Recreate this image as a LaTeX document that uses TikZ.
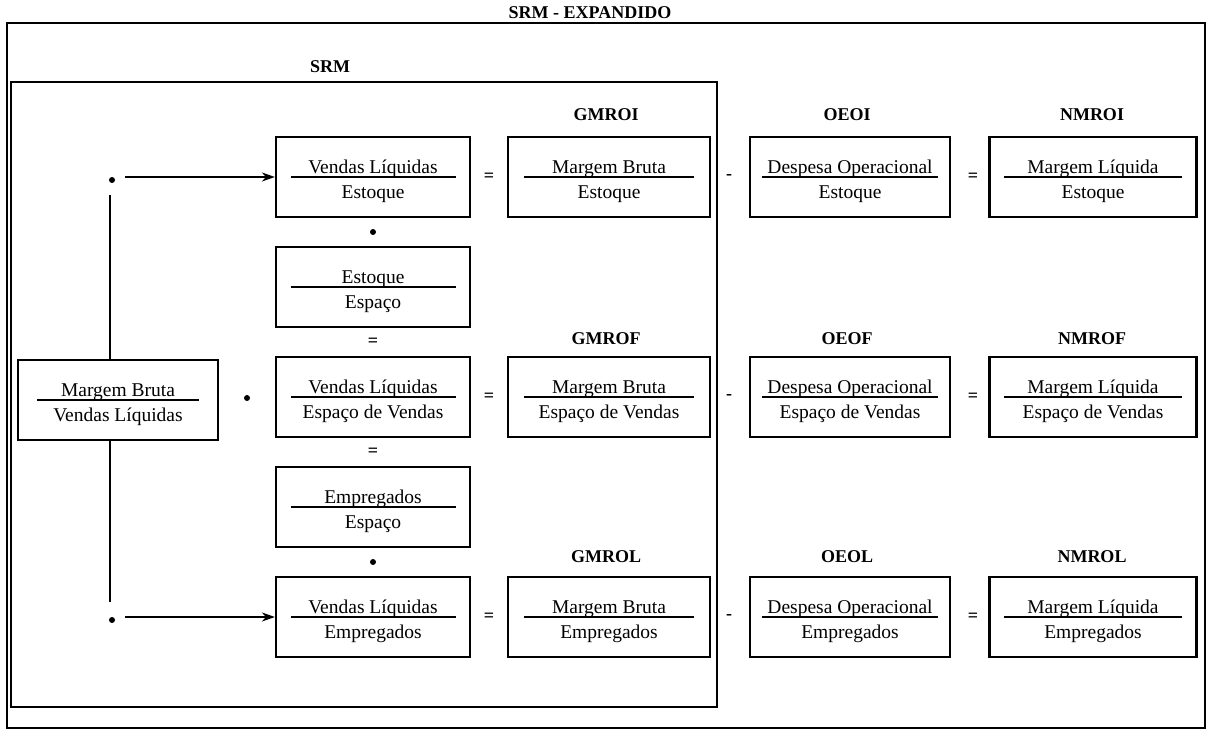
\documentclass[tikz,border=0pt]{standalone}
\usepackage{fontspec}
\setmainfont{Liberation Serif}
\usetikzlibrary{arrows.meta}

\tikzset{
  ratio/.style={draw, line width=2.2pt, minimum height=80pt, inner sep=0pt},
  fracrule/.style={line width=1.6pt},
  txt/.style={font=\fontsize{19.5}{23}\selectfont, inner sep=0pt},
  tag/.style={font=\fontsize{18}{22}\selectfont\bfseries, inner sep=0pt},
  op/.style={font=\fontsize{18}{22}\selectfont\bfseries, inner sep=0pt},
  dot/.style={circle, fill, inner sep=0pt, minimum size=6pt},
  link/.style={line width=2pt},
  arr/.style={line width=2pt, -{Stealth[length=13pt,width=9pt]}},
  frame/.style={line width=2.6pt},
}

% #1 name, #2 x, #3 y, #4 box width, #5 rule width, #6 numerator, #7 denominator
\newcommand\ratiobox[7]{%
  \node[ratio, minimum width=#4pt] (#1) at (#2,#3) {};
  \draw[fracrule] ([xshift={-#5pt/2}]#1.center) -- ([xshift={#5pt/2}]#1.center);
  \node[txt, anchor=base] (#1-num) at ([yshift=4pt]#1.center) {#6};
  \node[txt, anchor=base] (#1-den) at ([yshift=-21pt]#1.center) {#7};
}

\begin{document}
\begin{tikzpicture}[x=1pt, y=-1pt]
  \useasboundingbox (0,0) rectangle (1213,731);

  % frames
  \node[tag] (title) at (590,13) {SRM - EXPANDIDO};
  \draw[frame] (7,23) rectangle (1205,728);
  \draw[frame, line width=2.4pt] (11,82) rectangle (717,707);
  \node[tag] (srm) at (330,67) {SRM};

  % starting ratio
  \ratiobox{L}{118}{400}{200}{162}{Margem Bruta}{Vendas Líquidas}
  \node[dot] (c0) at (247,398) {};

  % chain of ratios
  \ratiobox{v1}{373}{177}{194}{165}{Vendas Líquidas}{Estoque}
  \ratiobox{v2}{373}{287}{194}{165}{Estoque}{Espaço}
  \ratiobox{v3}{373}{397}{194}{165}{Vendas Líquidas}{Espaço de Vendas}
  \ratiobox{v4}{373}{507}{194}{165}{Empregados}{Espaço}
  \ratiobox{v5}{373}{617}{194}{165}{Vendas Líquidas}{Empregados}
  \node[dot] (s1) at (373,232) {};
  \node[op] (s2) at (373,342) {=};
  \node[op] (s3) at (373,452) {=};
  \node[dot] (s4) at (373,562) {};

  % gross margin returns
  \node[tag] (gmroi) at (606,115) {GMROI};
  \node[tag] (gmrof) at (606,339) {GMROF};
  \node[tag] (gmrol) at (606,557) {GMROL};
  \ratiobox{g1}{609}{177}{202}{170}{Margem Bruta}{Estoque}
  \ratiobox{g2}{609}{397}{202}{170}{Margem Bruta}{Espaço de Vendas}
  \ratiobox{g3}{609}{617}{202}{170}{Margem Bruta}{Empregados}

  % operating expenses
  \node[tag] (oeoi) at (847,115) {OEOI};
  \node[tag] (oeof) at (847,339) {OEOF};
  \node[tag] (oeol) at (847,557) {OEOL};
  \ratiobox{o1}{850}{177}{200}{176}{Despesa Operacional}{Estoque}
  \ratiobox{o2}{850}{397}{200}{176}{Despesa Operacional}{Espaço de Vendas}
  \ratiobox{o3}{850}{617}{200}{176}{Despesa Operacional}{Empregados}

  % net margin returns
  \node[tag] (nmroi) at (1092,115) {NMROI};
  \node[tag] (nmrof) at (1092,339) {NMROF};
  \node[tag] (nmrol) at (1092,557) {NMROL};
  \ratiobox{n1}{1093}{177}{207}{178}{Margem Líquida}{Estoque}
  \ratiobox{n2}{1093}{397}{207}{178}{Margem Líquida}{Espaço de Vendas}
  \ratiobox{n3}{1093}{617}{207}{178}{Margem Líquida}{Empregados}

  % operators between columns
  \foreach \r/\y in {1/177, 2/397, 3/617} {
    \node[op] (eq\r) at (489,\y) {=};
    \node[op] (mi\r) at (729,\y) {-};
    \node[op] (qq\r) at (973,\y) {=};
  }

  % branching connectors
  \node[dot] (dt) at (112,180) {};
  \node[dot] (db) at (112,620) {};
  \coordinate (a1) at (125,177);
  \coordinate (a3) at (125,617);
  \coordinate (t1) at (110,195);
  \coordinate (b1) at (110,602);
  \draw[link] (t1) -- (t1 |- L.north);
  \draw[link] (L.south -| b1) -- (b1);
  \draw[arr] (a1) -- (v1.west);
  \draw[arr] (a3) -- (v5.west);
\end{tikzpicture}
\end{document}
